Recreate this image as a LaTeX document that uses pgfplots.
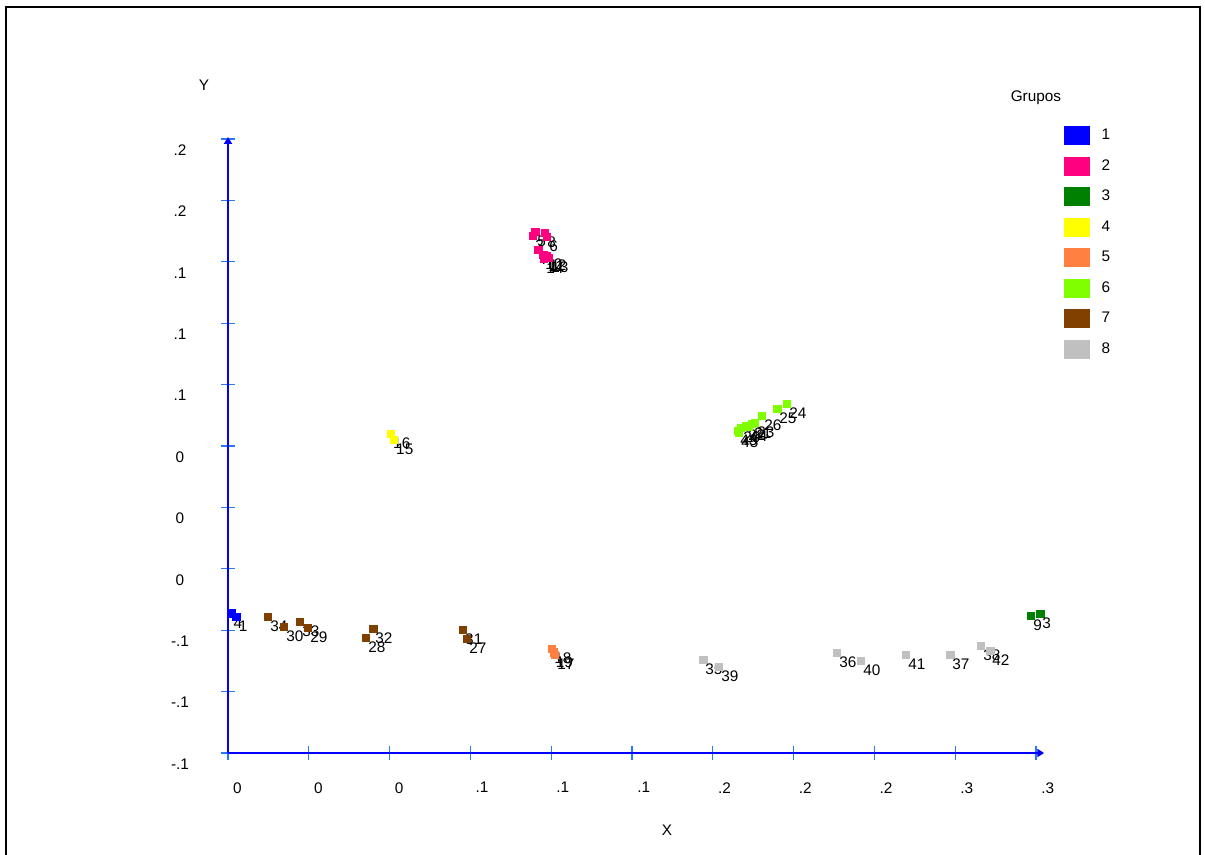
\documentclass[border=0pt]{standalone}
\usepackage{fontspec}
\setmainfont{Liberation Sans}
\usepackage{pgfplots}
\pgfplotsset{compat=1.18}
\usetikzlibrary{arrows.meta}
\definecolor{gA}{RGB}{0,0,255}
\definecolor{gB}{RGB}{255,0,128}
\definecolor{gC}{RGB}{0,128,0}
\definecolor{gD}{RGB}{255,255,0}
\definecolor{gE}{RGB}{255,128,64}
\definecolor{gF}{RGB}{128,255,0}
\definecolor{gG}{RGB}{128,64,0}
\definecolor{gH}{RGB}{192,192,192}
\definecolor{axblue}{RGB}{0,0,255}
\definecolor{tkblue}{RGB}{40,120,255}
\newcommand{\lfont}{\fontsize{11.5}{13}\selectfont}
\begin{document}
\begin{tikzpicture}
\useasboundingbox (0,0) rectangle (903.75pt,641.25pt);
\fill[white] (0,0) rectangle (903.75pt,641.25pt);
\draw[line width=1.5pt] (4.5pt,-5pt) -- (4.5pt,636pt) -- (900pt,636pt) -- (900pt,-5pt);
\begin{axis}[
  at={(171pt,76.5pt)}, anchor=south west,
  x=60.6pt, y=46.05pt,
  xmin=0, xmax=10.1, ymin=0, ymax=10.03,
  clip=false,
  axis lines=left,
  axis line style={draw=axblue, line width=1.2pt, -{Triangle[length=5pt,width=6pt]}},
  tick align=center,
  major tick length=10pt,
  tick style={draw=tkblue, line width=0.8pt},
  xtick={0,1,2,3,4,5,6,7,8,9,10},
  xticklabels={0,0,0,.1,.1,.1,.2,.2,.2,.3,.3},
  ytick={0,1,2,3,4,5,6,7,8,9,10},
  yticklabels={-.1,-.1,-.1,0,0,0,.1,.1,.1,.2,.2},
  ticklabel style={font=\lfont},
  xticklabel style={anchor=north west, xshift=0.4pt, yshift=-13.5pt},
  yticklabel style={anchor=center, xshift=-31pt, yshift=-8.25pt},
  xlabel={X}, ylabel={Y},
  every axis x label/.style={at={(axis description cs:0.538,0)}, anchor=center, yshift=-57.75pt, font=\lfont},
  every axis y label/.style={at={(axis description cs:-0.0294,1.085)}, anchor=center, font=\lfont},
  legend style={at={(axis description cs:1.0245,1.018)}, anchor=north west, draw=none, fill=none, inner sep=0pt, outer sep=0pt, row sep=9pt, column sep=9pt, nodes={inner sep=0pt, font=\lfont}},
  legend cell align=left,
  legend image code/.code={\fill[#1] (0pt,-6.75pt) rectangle (18.75pt,6.75pt);},
  every axis plot/.append style={only marks, mark=square*, mark size=2.8pt},
  nodes near coords,
  point meta=explicit symbolic,
  nodes near coords style={anchor=north west, inner sep=0pt, text=black, font=\lfont, xshift=1.5pt, yshift=-3pt},
]
\addplot[color=gA] table[meta=lab] {
x y lab
0.043 2.272 4
0.105 2.215 1
};
\addlegendentry{1}
\addplot[color=gB] table[meta=lab] {
x y lab
3.775 8.420 2
3.800 8.485 5
3.923 8.469 8
3.948 8.404 6
3.837 8.192 7
3.899 8.111 10
3.936 8.078 11
3.948 8.094 12
3.973 8.062 13
3.911 8.046 14
};
\addlegendentry{2}
\addplot[color=gC] table[meta=lab] {
x y lab
9.938 2.231 9
10.050 2.264 3
};
\addlegendentry{3}
\addplot[color=gD] table[meta=lab] {
x y lab
2.017 5.195 16
2.054 5.098 15
};
\addlegendentry{4}
\addplot[color=gE] table[meta=lab] {
x y lab
4.010 1.694 18
4.030 1.640 19
4.047 1.596 17
};
\addlegendentry{5}
\addplot[color=gF] table[meta=lab] {
x y lab
6.918 5.684 24
6.795 5.603 25
6.609 5.489 26
6.522 5.375 23
6.411 5.326 22
6.485 5.358 21
6.349 5.293 20
6.312 5.244 43
6.436 5.309 44
6.324 5.212 45
};
\addlegendentry{6}
\addplot[color=gG] table[meta=lab] {
x y lab
0.495 2.215 34
0.693 2.052 30
0.891 2.134 33
0.990 2.036 29
1.795 2.020 32
1.708 1.873 28
2.908 2.003 31
2.958 1.857 27
};
\addlegendentry{7}
\addplot[color=gH] table[meta=lab] {
x y lab
5.879 1.515 35
6.077 1.401 39
7.537 1.629 36
7.834 1.498 40
8.391 1.596 41
8.936 1.596 37
9.319 1.743 38
9.431 1.661 42
};
\addlegendentry{8}
\node[font=\lfont, anchor=center] at (axis description cs:0.990,1.0637) {Grupos};
\end{axis}
\end{tikzpicture}
\end{document}
